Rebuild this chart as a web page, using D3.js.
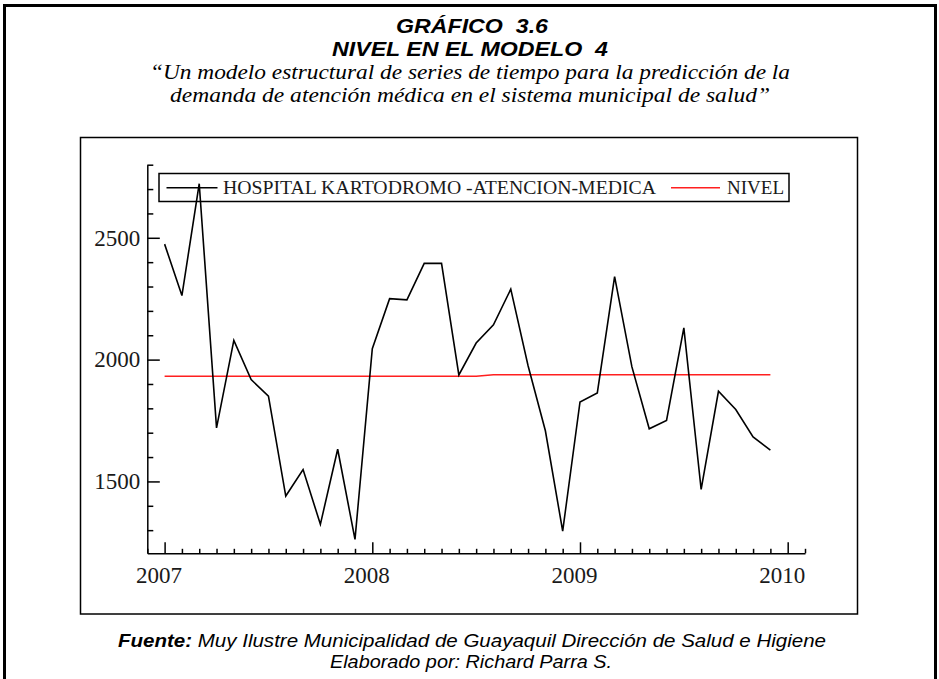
<!DOCTYPE html>
<html>
<head>
<meta charset="utf-8">
<script src="https://cdn.jsdelivr.net/npm/d3@7"></script>
<style>
  body { margin: 0; background: #fff; }
  text { white-space: pre; }
</style>
</head>
<body>
<div id="chart"></div>
<script>

// Monthly data, Jan 2007 .. Dec 2009
var startYear = 2007;
var atencion = [
	2474, 2263, 2722, 1720, 2079, 1918, 1850, 1440, 1549, 1324, 1632, 1262,
	2045, 2250, 2245, 2395, 2395, 1937, 2068, 2143, 2289, 1975, 1708, 1296,
	1826, 1863, 2341, 1970, 1716, 1750, 2130, 1467, 1870, 1795, 1683, 1628
];
var nivel = [
	1932, 1932, 1932, 1932, 1932, 1932, 1932, 1932, 1932, 1932, 1932, 1932,
	1932, 1932, 1932, 1932, 1932, 1932, 1932, 1938, 1938, 1938, 1938, 1938,
	1938, 1938, 1938, 1938, 1938, 1938, 1938, 1938, 1938, 1938, 1938, 1938
];
var yearTicks = [2007, 2008, 2009, 2010];
var yMajorTicks = [1500, 2000, 2500];
var legendLabels = ["HOSPITAL KARTODROMO -ATENCION-MEDICA", "NIVEL"];


var width = 939;
var height = 679;

var svg = d3.select("#chart")
	.append("svg")
	.attr("width", width)
	.attr("height", height);

svg.append("rect")
	.attr("width", width)
	.attr("height", height)
	.attr("fill", "#fff");

// outer frame (runs off the bottom of the page)
svg.append("rect")
	.attr("x", 4.5).attr("y", 5.5)
	.attr("width", 931).attr("height", 720)
	.attr("fill", "none")
	.attr("stroke", "#000")
	.attr("stroke-width", 3);


// Titles
var sans = "'Liberation Sans', Arial, sans-serif";
var serif = "'Liberation Serif', 'Times New Roman', serif";

svg.append("text")
	.attr("x", 472).attr("y", 33)
	.attr("text-anchor", "middle")
	.attr("textLength", 152)
	.attr("lengthAdjust", "spacingAndGlyphs")
	.style("font-family", sans).style("font-size", "21px")
	.style("font-weight", "bold").style("font-style", "italic")
	.text("GRÁFICO  3.6");

svg.append("text")
	.attr("x", 470).attr("y", 56)
	.attr("text-anchor", "middle")
	.attr("textLength", 276)
	.attr("lengthAdjust", "spacingAndGlyphs")
	.style("font-family", sans).style("font-size", "21px")
	.style("font-weight", "bold").style("font-style", "italic")
	.text("NIVEL EN EL MODELO  4");

svg.append("text")
	.attr("x", 470).attr("y", 79)
	.attr("text-anchor", "middle")
	.attr("textLength", 640)
	.attr("lengthAdjust", "spacingAndGlyphs")
	.style("font-family", serif).style("font-size", "22px")
	.style("font-style", "italic")
	.text("“Un modelo estructural de series de tiempo para la predicción de la");

svg.append("text")
	.attr("x", 470).attr("y", 102)
	.attr("text-anchor", "middle")
	.attr("textLength", 600)
	.attr("lengthAdjust", "spacingAndGlyphs")
	.style("font-family", serif).style("font-size", "22px")
	.style("font-style", "italic")
	.text("demanda de atención médica en el sistema municipal de salud”");


// chart box
svg.append("rect")
	.attr("x", 80.5).attr("y", 137.5)
	.attr("width", 777).attr("height", 476.5)
	.attr("fill", "none")
	.attr("stroke", "#000")
	.attr("stroke-width", 1.5);


// Scales
var xScale = d3.scaleLinear()
	.domain([startYear - 1/12, 2010 + 1/12])
	.range([147.3, 805]);

var yScale = d3.scaleLinear()
	.domain([1205, 2800])
	.range([553.3, 164.7]);

var months = atencion.map(function(d, i) { return startYear + i / 12; });


// Y axis (ticks point into the plot)
var yAxis = svg.append("g")
	.attr("transform", "translate(" + xScale.range()[0] + ",0)")
	.call(d3.axisLeft(yScale)
		.tickValues(yMajorTicks)
		.tickSizeInner(-12.5)
		.tickSizeOuter(0)
		.tickPadding(7)
		.tickFormat(d3.format("d")));

svg.append("g")
	.attr("transform", "translate(" + xScale.range()[0] + ",0)")
	.call(d3.axisLeft(yScale)
		.tickValues(d3.range(1300, 2801, 100).filter(function(v) { return v % 500 != 0; }))
		.tickSize(-6)
		.tickFormat(""))
	.select(".domain").remove();

// X axis
var xAxis = svg.append("g")
	.attr("transform", "translate(0," + yScale.range()[0] + ")")
	.call(d3.axisBottom(xScale)
		.tickValues(yearTicks)
		.tickSizeInner(-11)
		.tickSizeOuter(0)
		.tickPadding(13)
		.tickFormat(d3.format("d")));

svg.append("g")
	.attr("transform", "translate(0," + yScale.range()[0] + ")")
	.call(d3.axisBottom(xScale)
		.tickValues(d3.range(-1, 38).filter(function(m) { return m % 12 != 0; })
			.map(function(m) { return startYear + m / 12; }))
		.tickSize(-4.5)
		.tickFormat(""))
	.select(".domain").remove();

svg.selectAll(".domain, .tick line")
	.attr("stroke", "#000")
	.attr("stroke-width", 1.5);

svg.selectAll(".tick text")
	.attr("fill", "#1a1a1a")
	.style("font-family", serif)
	.style("font-size", "23px");

xAxis.selectAll(".tick text").attr("dx", -6);


// Lines
var line = d3.line()
	.x(function(d) { return xScale(d[0]); })
	.y(function(d) { return yScale(d[1]); });

svg.append("path")
	.datum(months.map(function(m, i) { return [m, nivel[i]]; }))
	.attr("fill", "none")
	.attr("stroke", "#ff1f1f")
	.attr("stroke-width", 1.6)
	.attr("d", line);

svg.append("path")
	.datum(months.map(function(m, i) { return [m, atencion[i]]; }))
	.attr("fill", "none")
	.attr("stroke", "#000")
	.attr("stroke-width", 1.6)
	.attr("stroke-linejoin", "miter")
	.attr("d", line);


// Legend
var legend = svg.append("g");

legend.append("rect")
	.attr("x", 159).attr("y", 173.5)
	.attr("width", 630).attr("height", 28)
	.attr("fill", "none")
	.attr("stroke", "#000")
	.attr("stroke-width", 1.5);

legend.append("line")
	.attr("x1", 166.5).attr("x2", 217.5)
	.attr("y1", 187.7).attr("y2", 187.7)
	.attr("stroke", "#000").attr("stroke-width", 1.5);

legend.append("line")
	.attr("x1", 671).attr("x2", 720)
	.attr("y1", 187.7).attr("y2", 187.7)
	.attr("stroke", "#ff1f1f").attr("stroke-width", 1.6);

legend.append("text")
	.attr("x", 223).attr("y", 194)
	.attr("fill", "#1a1a1a")
	.attr("textLength", 433)
	.attr("lengthAdjust", "spacingAndGlyphs")
	.style("font-family", serif).style("font-size", "19px")
	.text(legendLabels[0]);

legend.append("text")
	.attr("x", 727).attr("y", 194)
	.attr("fill", "#1a1a1a")
	.style("font-family", serif).style("font-size", "19px")
	.text(legendLabels[1]);


// Footer
var fuente = svg.append("text")
	.attr("x", 118).attr("y", 647)
	.attr("textLength", 708)
	.attr("lengthAdjust", "spacingAndGlyphs")
	.style("font-family", sans).style("font-size", "18px")
	.style("font-style", "italic");

fuente.append("tspan").style("font-weight", "bold").text("Fuente:");
fuente.append("tspan").text(" Muy Ilustre Municipalidad de Guayaquil Dirección de Salud e Higiene");

svg.append("text")
	.attr("x", 330).attr("y", 668)
	.attr("textLength", 282)
	.attr("lengthAdjust", "spacingAndGlyphs")
	.style("font-family", sans).style("font-size", "18px")
	.style("font-style", "italic")
	.text("Elaborado por: Richard Parra S.");

</script>
</body>
</html>
